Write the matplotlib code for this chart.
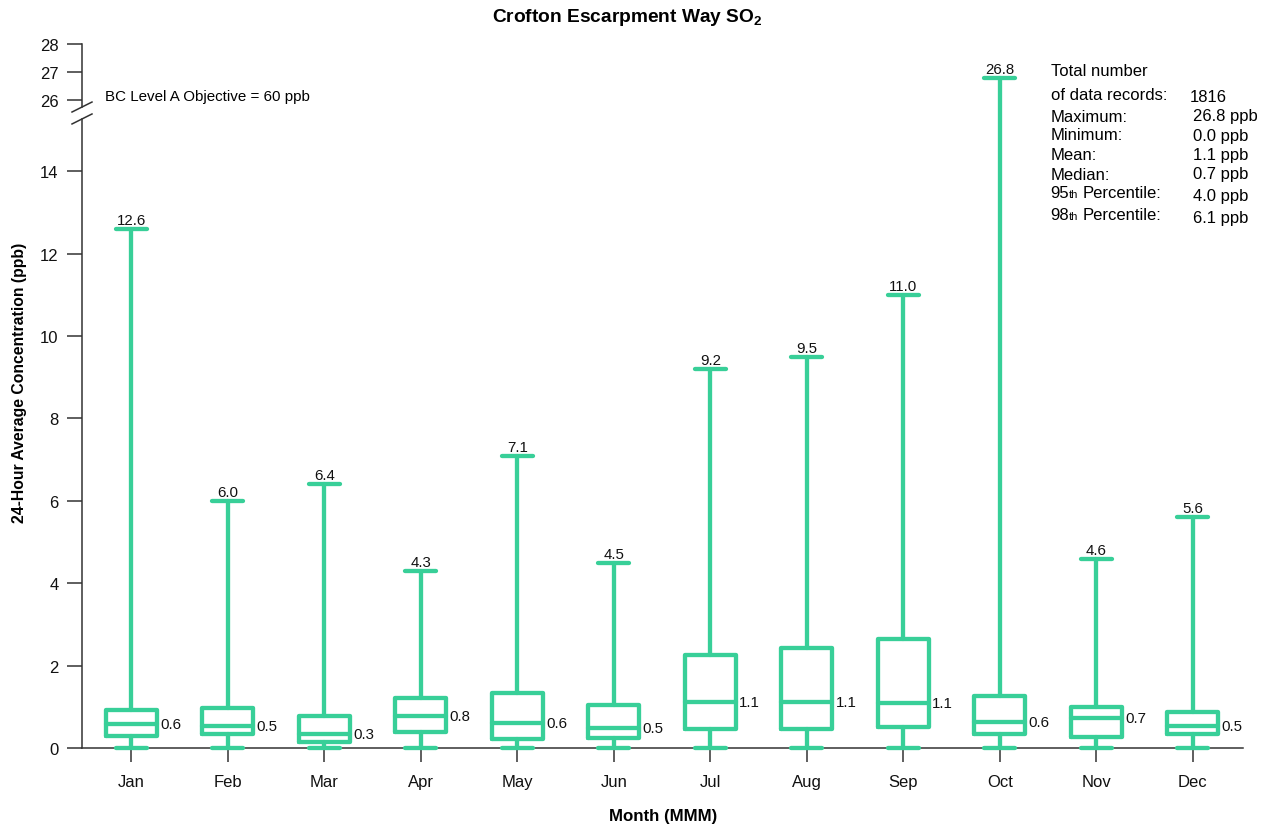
import numpy as np
import matplotlib
matplotlib.use("Agg")
import matplotlib.pyplot as plt
from matplotlib.lines import Line2D

plt.rcParams['font.family'] = ['Liberation Sans', 'DejaVu Sans']
plt.rcParams['mathtext.fontset'] = 'custom'
plt.rcParams['mathtext.rm'] = 'Liberation Sans'
plt.rcParams['mathtext.bf'] = 'Liberation Sans:bold'

# data (ppb)
months = ['Jan', 'Feb', 'Mar', 'Apr', 'May', 'Jun', 'Jul', 'Aug', 'Sep', 'Oct', 'Nov', 'Dec']
mins = [0, 0, 0, 0, 0, 0, 0, 0, 0, 0, 0, 0]
q1 = [0.29, 0.34, 0.15, 0.39, 0.22, 0.24, 0.46, 0.45, 0.51, 0.34, 0.27, 0.34]
medians = [0.58, 0.53, 0.34, 0.78, 0.61, 0.49, 1.12, 1.12, 1.09, 0.63, 0.73, 0.53]
q3 = [0.92, 0.97, 0.78, 1.21, 1.33, 1.04, 2.26, 2.43, 2.65, 1.26, 1.00, 0.87]
maxs = [12.6, 6.0, 6.4, 4.3, 7.1, 4.5, 9.2, 9.5, 11.0, 26.8, 4.6, 5.6]

stat_names = ['Maximum:', 'Minimum:', 'Mean:', 'Median:']
stat_values = ['26.8 ppb', '0.0 ppb', '1.1 ppb', '0.7 ppb']
pct_names = ['95', '98']
pct_values = ['4.0 ppb', '6.1 ppb']
n_records = 1816

green = '#38cf98'

# broken y axis: 15..26 squeezed into a small gap, upper part compressed
G = 0.73
R = 0.68


def fwd(y):
    y = np.asarray(y, float)
    return np.where(y <= 15, y, np.where(y < 26, 15 + (y - 15) * G / 11, 15 + G + (y - 26) * R))


def inv(t):
    t = np.asarray(t, float)
    return np.where(t <= 15, t, np.where(t < 15 + G, 15 + (t - 15) * 11 / G, 26 + (t - 15 - G) / R))


W, H = 1267, 829
fig = plt.figure(figsize=(W / 100, H / 100), dpi=100)
ax = fig.add_axes([82 / W, 1 - 749 / H, (1243 - 82) / W, (749 - 45) / H])
ax.set_yscale('function', functions=(fwd, inv))

pos = np.arange(len(months))
stats = []
for i in range(len(months)):
    stats.append(dict(med=medians[i], q1=q1[i], q3=q3[i], whislo=mins[i],
                      whishi=maxs[i], fliers=[], label=months[i]))

lp = dict(color=green, linewidth=3.1, solid_joinstyle='round', solid_capstyle='round')
bp = ax.bxp(stats, positions=pos, widths=0.53, capwidths=0.32, showfliers=False,
            boxprops=lp, whiskerprops=lp, capprops=lp, medianprops=lp, zorder=3)
for key in ['boxes', 'whiskers', 'caps', 'medians']:
    for art in bp[key]:
        art.set_clip_on(False)

for i in range(len(months)):
    ax.annotate(f'{maxs[i]:.1f}', (pos[i], maxs[i]), xytext=(0, 3.5), textcoords='offset points',
                ha='center', va='baseline', fontsize=10.8, color='#111111', zorder=4)
    ax.text(pos[i] + 0.3, medians[i], f'{medians[i]:.1f}',
            ha='left', va='center', fontsize=10.8, color='#111111', zorder=4)

ax.set_xlim(-0.51, 11.52)
ax.set_ylim(0, 28)
ax.set_yticks([0, 2, 4, 6, 8, 10, 12, 14, 26, 27, 28])
ax.set_yticklabels(['0', '2', '4', '6', '8', '10', '12', '14', '26', '27', '28'])
ax.set_xticks(pos)
ax.set_xticklabels(months)
ax.tick_params(axis='both', direction='out', length=11, width=1.1, color='#333333',
               labelsize=12, labelcolor='#111111', pad=6)
ax.tick_params(axis='x', length=10, pad=9)

for s in ['top', 'right', 'left']:
    ax.spines[s].set_visible(False)
ax.spines['bottom'].set_color('#333333')
ax.spines['bottom'].set_linewidth(1.1)
ax.spines['bottom'].set_zorder(1)

# left spine drawn in two pieces with a break
top_t = float(fwd(28))
b1 = 15.27 / top_t
b2 = 15.56 / top_t
kw = dict(transform=ax.transAxes, color='#333333', linewidth=1.1, clip_on=False)
ax.add_line(Line2D([0, 0], [0, b1], **kw))
ax.add_line(Line2D([0, 0], [b2, 1], **kw))
dx = 10 / (1243 - 82)
dy = 5 / (749 - 45)
ax.add_line(Line2D([-dx, dx], [b1 - dy, b1 + dy], **kw))
ax.add_line(Line2D([-dx, dx], [b2 - dy, b2 + dy], **kw))

ax.set_ylabel('24-Hour Average Concentration (ppb)', fontsize=11.3, fontweight='bold', va='center')
ax.yaxis.set_label_coords((20 - 82) / (1243 - 82), (749 - 383) / (749 - 45))
ax.set_xlabel('Month (MMM)', fontsize=12.2, fontweight='bold')
ax.xaxis.set_label_coords((663 - 82) / (1243 - 82), -(817 - 749) / (749 - 45))
ax.xaxis.label.set_va('center')
fig.text(627 / W, 1 - 18 / H, r'Crofton Escarpment Way SO$_\mathbf{2}$', ha='center', va='center',
         fontsize=13.8, fontweight='bold')

fig.text(105 / W, 1 - 97 / H, 'BC Level A Objective = 60 ppb', ha='left', va='center', fontsize=10.9)

# summary block
fs = 12
fig.text(1051 / W, 1 - 72 / H, 'Total number', ha='left', va='center', fontsize=fs)
fig.text(1051 / W, 1 - 95 / H, 'of data records:', ha='left', va='center', fontsize=fs)
fig.text(1190 / W, 1 - 97 / H, str(n_records), ha='left', va='center', fontsize=fs)
for name, val, y in zip(stat_names, stat_values, [117, 136, 156, 175]):
    fig.text(1051 / W, 1 - y / H, name, ha='left', va='center', fontsize=fs)
    fig.text(1193 / W, 1 - y / H, val, ha='left', va='center', fontsize=fs)
for name, val, y, yv in zip(pct_names, pct_values, [194, 216], [197, 218]):
    fig.text(1050 / W, 1 - y / H, name, ha='left', va='center', fontsize=fs)
    fig.text(1069 / W, 1 - (y + 1) / H, 'th', ha='left', va='center', fontsize=8)
    fig.text(1083 / W, 1 - y / H, 'Percentile:', ha='left', va='center', fontsize=fs)
    fig.text(1193 / W, 1 - yv / H, val, ha='left', va='center', fontsize=fs)

fig.savefig('out.png', dpi=100)
